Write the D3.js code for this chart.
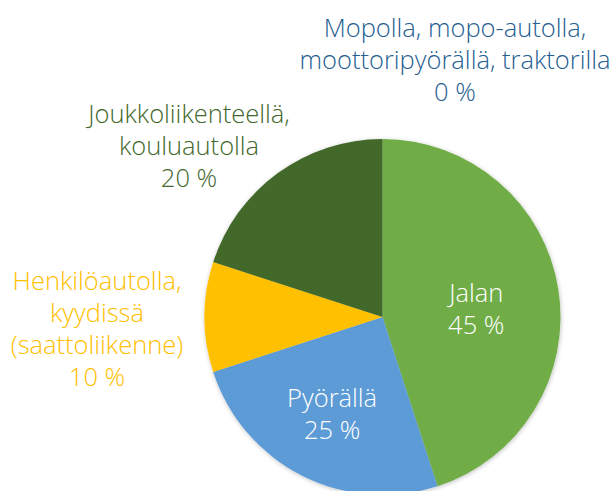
<!DOCTYPE html>
<html>
<head>
<meta charset="utf-8">
<script src="https://cdn.jsdelivr.net/npm/d3@7"></script>
<style>
  html, body { margin: 0; padding: 0; background: #fff; }
  svg { display: block; font-family: "Open Sans", Lato, sans-serif; font-weight: 300; }
</style>
</head>
<body>
<script>
var w = 615;
var h = 491;

// data
var categories = ["Jalan", "Pyörällä", "Henkilöautolla, kyydissä (saattoliikenne)",
    "Joukkoliikenteellä, kouluautolla", "Mopolla, mopo-autolla, moottoripyörällä, traktorilla"];
var values = [45, 25, 10, 20, 0];
var labelLines = [
    ["Jalan"],
    ["Pyörällä"],
    ["Henkilöautolla,", "kyydissä", "(saattoliikenne)"],
    ["Joukkoliikenteellä,", "kouluautolla"],
    ["Mopolla, mopo-autolla,", "moottoripyörällä, traktorilla"]
];
var colors = ["#70AD47", "#5B9BD5", "#FFC000", "#43682B", "#255E91"];

var cx = 382.5;
var cy = 317;
var radius = 178;
var lineH = 32;

// outside label anchors (center x, first baseline)
var outsideLabels = {
    2: [97, 290],
    3: [189, 123],
    4: [455, 37]
};

var svg = d3.select("body")
    .append("svg")
    .attr("width", w)
    .attr("height", h);

var defs = svg.append("defs");
var filter = defs.append("filter")
    .attr("id", "shadow")
    .attr("x", "-10%").attr("y", "-10%")
    .attr("width", "120%").attr("height", "120%");
filter.append("feDropShadow")
    .attr("dx", 0.5).attr("dy", 1)
    .attr("stdDeviation", 2)
    .attr("flood-color", "#000")
    .attr("flood-opacity", 0.25);

var pie = d3.pie().sort(null).value(function (d) { return d; });
var arcs = pie(values);

var arc = d3.arc().innerRadius(0).outerRadius(radius);
var labelArc = d3.arc().innerRadius(100).outerRadius(100);

var g = svg.append("g")
    .attr("transform", "translate(" + cx + "," + cy + ")");

g.append("g")
    .attr("filter", "url(#shadow)")
    .selectAll("path")
    .data(arcs)
    .enter()
    .append("path")
    .attr("d", arc)
    .style("fill", function (d, i) { return colors[i]; });

var labels = svg.append("g")
    .style("font-size", "25.5px")
    .style("text-anchor", "middle");

arcs.forEach(function (d, i) {
    var lines = labelLines[i].concat([d.value + " %"]);
    var x, y, fill;
    if (outsideLabels[i]) {
        x = outsideLabels[i][0];
        y = outsideLabels[i][1];
        fill = colors[i];
    } else {
        var c = labelArc.centroid(d);
        x = cx + c[0] - 5;
        y = cy + c[1] + 1;
        fill = "#fff";
    }
    var t = labels.append("text")
        .attr("x", x)
        .attr("y", y)
        .style("fill", fill);
    t.selectAll("tspan")
        .data(lines)
        .enter()
        .append("tspan")
        .attr("x", x)
        .attr("dy", function (l, j) { return j === 0 ? 0 : lineH; })
        .text(function (l) { return l; });
});
</script>
</body>
</html>
